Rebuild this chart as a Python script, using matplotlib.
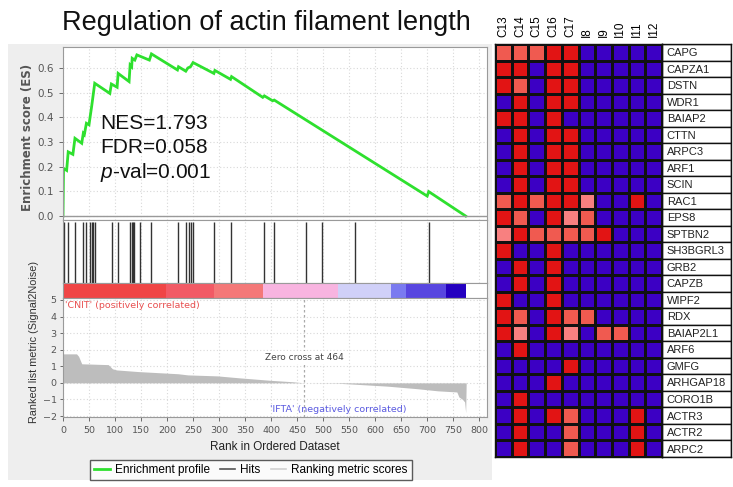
import matplotlib
matplotlib.use("Agg")
import matplotlib.pyplot as plt
from matplotlib.patches import Rectangle
from matplotlib.lines import Line2D
from matplotlib.colors import ListedColormap, BoundaryNorm
import numpy as np

plt.rcParams['mathtext.fontset'] = 'custom'
plt.rcParams['mathtext.it'] = 'Liberation Sans:italic'
plt.rcParams['mathtext.rm'] = 'Liberation Sans'

# ---------------- data ----------------
title = "Regulation of actin filament length"

es_rank = [0, 1, 7, 10, 19, 23, 36, 39, 41, 45, 50, 52, 55, 61, 90, 93, 104, 106, 127, 129,
           132, 133, 138, 142, 166, 170, 220, 222, 236, 240, 245, 250, 290, 292, 322, 324,
           384, 387, 403, 406, 700, 703, 774]
es_value = [0.0, 0.193, 0.185, 0.26, 0.25, 0.315, 0.295, 0.335, 0.33, 0.376, 0.37, 0.40, 0.443,
            0.538, 0.497, 0.535, 0.522, 0.578, 0.545, 0.612, 0.605, 0.639, 0.632, 0.653, 0.632,
            0.657, 0.592, 0.605, 0.587, 0.60, 0.605, 0.622, 0.578, 0.59, 0.554, 0.565, 0.481,
            0.487, 0.467, 0.47, 0.081, 0.099, 0.0]

hit_ranks = [2, 9, 23, 39, 44, 52, 55, 58, 61, 95, 106, 129, 132, 135, 137, 148, 170, 221, 237,
             242, 246, 250, 291, 323, 386, 405, 467, 497, 562, 703]

metric_rank = [0, 26, 30, 36, 87, 95, 103, 145, 221, 240, 297, 340, 400, 440, 464, 527, 560,
               624, 680, 720, 757, 761, 768, 772, 774, 775]
metric_value = [1.75, 1.75, 1.6, 1.15, 1.1, 0.85, 0.78, 0.68, 0.55, 0.48, 0.42, 0.3, 0.15, 0.07,
                0.0, -0.02, -0.08, -0.2, -0.35, -0.48, -0.55, -0.85, -1.0, -1.15, -1.8, 0.0]

band_edges = [0, 198, 290, 384, 528, 630, 659, 736, 774]
band_colors = ['#f04545', '#f25a65', '#f47878', '#f8b4e0', '#d0d0f8', '#7a7af0', '#5846e0', '#2400c0']

zero_cross = 464
nes_lines = ["NES=1.793", "FDR=0.058", "$p$-val=0.001"]

samples = ["C13", "C14", "C15", "C16", "C17", "I8", "I9", "I10", "I11", "I12"]
genes = ["CAPG", "CAPZA1", "DSTN", "WDR1", "BAIAP2", "CTTN", "ARPC3", "ARF1", "SCIN", "RAC1",
         "EPS8", "SPTBN2", "SH3BGRL3", "GRB2", "CAPZB", "WIPF2", "RDX", "BAIAP2L1", "ARF6",
         "GMFG", "ARHGAP18", "CORO1B", "ACTR3", "ACTR2", "ARPC2"]
# 0 = low (blue), 1 = pink, 2 = salmon, 3 = red
expr = [
    [2, 2, 2, 3, 3, 0, 0, 0, 0, 0],
    [3, 3, 0, 3, 3, 0, 0, 0, 0, 0],
    [3, 2, 0, 3, 3, 0, 0, 0, 0, 0],
    [0, 3, 0, 3, 3, 0, 0, 0, 0, 0],
    [3, 3, 0, 3, 0, 0, 0, 0, 0, 0],
    [0, 3, 0, 3, 3, 0, 0, 0, 0, 0],
    [0, 3, 0, 3, 3, 0, 0, 0, 0, 0],
    [0, 3, 0, 3, 3, 0, 0, 0, 0, 0],
    [0, 3, 0, 3, 3, 0, 0, 0, 0, 0],
    [2, 3, 2, 3, 3, 1, 0, 0, 3, 0],
    [3, 2, 0, 3, 1, 2, 0, 0, 0, 0],
    [1, 3, 2, 2, 2, 2, 3, 0, 0, 0],
    [3, 0, 0, 3, 0, 0, 0, 0, 0, 0],
    [0, 3, 0, 3, 0, 0, 0, 0, 0, 0],
    [0, 3, 0, 3, 0, 0, 0, 0, 0, 0],
    [3, 0, 0, 3, 0, 0, 0, 0, 0, 0],
    [3, 2, 0, 3, 2, 2, 0, 0, 0, 0],
    [3, 1, 0, 3, 1, 0, 2, 2, 0, 0],
    [0, 3, 0, 0, 0, 0, 0, 0, 0, 0],
    [0, 0, 0, 0, 3, 0, 0, 0, 0, 0],
    [0, 0, 0, 3, 0, 0, 0, 0, 0, 0],
    [0, 3, 0, 0, 0, 0, 0, 0, 0, 0],
    [0, 3, 0, 3, 2, 0, 0, 0, 3, 0],
    [0, 3, 0, 0, 2, 0, 0, 0, 3, 0],
    [0, 3, 0, 0, 2, 0, 0, 0, 3, 0],
]
heat_colors = ['#3c00c4', '#f88080', '#f05a50', '#e21414']

# ---------------- figure ----------------
W, H = 733, 487
fig = plt.figure(figsize=(W / 100, H / 100), dpi=100)

def fx(px):
    return px / W

def fy(py):
    return 1 - py / H

# gray background panel
fig.patches.append(Rectangle((fx(8), fy(480)), fx(484), 436 / H, transform=fig.transFigure,
                             facecolor='#eeeeee', edgecolor='none', zorder=-10))

XL = (0, 815)
grid_kw = dict(color='#d8d8d8', linestyle=(0, (1, 2)), linewidth=0.8)
tick_color = '#555555'
spine_color = '#9a9a9a'

def style(ax):
    for s in ax.spines.values():
        s.set_color(spine_color)
        s.set_linewidth(0.8)
    ax.tick_params(colors=tick_color, labelsize=7.5, length=3, width=0.6)

left, right = 63, 487
# ES axes
ax1 = fig.add_axes([fx(left), fy(220), fx(right - left), 173 / H])
ax1.plot(es_rank, es_value, color='#2ee02e', lw=2, solid_joinstyle='miter')
ax1.axhline(0, color='#999999', lw=1)
ax1.set_xlim(*XL)
ax1.set_ylim(-0.016, 0.685)
ax1.set_yticks([0.0, 0.1, 0.2, 0.3, 0.4, 0.5, 0.6])
ax1.set_yticklabels(["%.1f" % v for v in [0.0, 0.1, 0.2, 0.3, 0.4, 0.5, 0.6]])
ax1.set_xticks(np.arange(0, 801, 50))
ax1.tick_params(axis='x', labelbottom=False, length=0)
ax1.grid(True, **grid_kw)
ax1.set_axisbelow(True)
style(ax1)
for i, t in enumerate(nes_lines):
    ax1.text(71, 0.377 - i * 0.101, t, fontsize=15, family='Liberation Sans', va='center',
             ha='left', color='#111111')

# hits axes
ax2 = fig.add_axes([fx(left), fy(283), fx(right - left), 63 / H])
ax2.vlines(hit_ranks, 0, 1, color='#333333', lw=1)
ax2.set_xlim(*XL)
ax2.set_ylim(0, 1.03)
ax2.set_xticks(np.arange(0, 801, 50))
ax2.set_yticks([])
ax2.tick_params(axis='x', labelbottom=False, length=0)
ax2.grid(True, axis='x', **grid_kw)
ax2.set_axisbelow(True)
style(ax2)

# color band axes
ax3 = fig.add_axes([fx(left), fy(298), fx(right - left), 15 / H])
for i, c in enumerate(band_colors):
    ax3.axvspan(band_edges[i], band_edges[i + 1], color=c, lw=0)
ax3.set_xlim(*XL)
ax3.set_ylim(0, 1)
ax3.set_xticks([])
ax3.set_yticks([])
style(ax3)

# ranked metric axes
ax4 = fig.add_axes([fx(left), fy(417), fx(right - left), 119 / H])
ax4.fill_between(metric_rank, metric_value, 0, color='#bdbdbd', lw=0)
ax4.axvline(zero_cross, color='#aaaaaa', lw=0.9, linestyle=(0, (2, 2)))
ax4.set_xlim(*XL)
ax4.set_ylim(-2.06, 5.12)
ax4.set_yticks(range(-2, 6))
ax4.set_xticks(np.arange(0, 801, 50))
ax4.grid(True, **grid_kw)
ax4.set_axisbelow(True)
style(ax4)
ax4.tick_params(labelsize=6.8)
ax4.tick_params(axis='y', pad=2, length=2.5)
ax4.set_xlabel("Rank in Ordered Dataset", fontsize=8.5, color='#222222',
               family='Liberation Sans', labelpad=4)
ax4.text(4, 4.95, "'CNIT' (positively correlated)", color='#e85050', fontsize=6.8,
         va='top', ha='left')
ax4.text(530, -1.62, "'IFTA' (negatively correlated)", color='#5a5ae0', fontsize=6.8,
         va='center', ha='center')
ax4.text(zero_cross, 1.55, "Zero cross at %d" % zero_cross, color='#444444', fontsize=6.5,
         va='center', ha='center',
         bbox=dict(facecolor='white', edgecolor='none', pad=1.5))

fig.text(fx(28), fy(137), "Enrichment score (ES)", rotation=90, fontsize=8.5, color='#555555',
         ha='center', va='center', fontweight='bold')
fig.text(fx(34), fy(342), "Ranked list metric (Signal2Noise)", rotation=90, fontsize=7.8,
         color='#333333', ha='center', va='center', family='Liberation Sans')

fig.text(fx(266), fy(23), title, fontsize=19.5, family='Liberation Sans', ha='center',
         va='center', color='#111111')

handles = [Line2D([], [], color='#2ee02e', lw=2),
           Line2D([], [], color='#555555', lw=1.2),
           Line2D([], [], color='#d0d0d0', lw=1.2)]
leg = fig.legend(handles, ["Enrichment profile", "Hits", "Ranking metric scores"],
                 loc='center', bbox_to_anchor=(fx(251), fy(470)), ncol=3,
                 frameon=True, fancybox=False, edgecolor='#333333', handlelength=1.3,
                 handletextpad=0.4, columnspacing=0.9, borderpad=0.35,
                 prop={'family': 'Liberation Sans', 'size': 8.5})
leg.get_frame().set_linewidth(1.0)

# ---------------- heatmap ----------------
axh = fig.add_axes([fx(495), fy(457), fx(167), 413 / H])
cmap = ListedColormap(heat_colors)
norm = BoundaryNorm([-0.5, 0.5, 1.5, 2.5, 3.5], cmap.N)
arr = np.array(expr)
axh.pcolormesh(np.arange(arr.shape[1] + 1), np.arange(arr.shape[0] + 1), arr, cmap=cmap,
               norm=norm, edgecolors='#111111', linewidth=1.0)
axh.set_xlim(0, len(samples))
axh.set_ylim(len(genes), 0)
axh.set_xticks(np.arange(len(samples)) + 0.5)
axh.set_xticklabels(samples, rotation=90, fontsize=8.5, family='Liberation Sans')
axh.xaxis.tick_top()
axh.tick_params(axis='x', length=0, pad=5)
axh.set_yticks([])
for s in axh.spines.values():
    s.set_color('#111111')
    s.set_linewidth(1.0)

axl = fig.add_axes([fx(662), fy(457), fx(69), 413 / H])
axl.set_xlim(0, 1)
axl.set_ylim(len(genes), 0)
for i, g in enumerate(genes):
    axl.add_patch(Rectangle((0, i), 1, 1, facecolor='white', edgecolor='#111111', lw=1.0))
    axl.text(0.07, i + 0.55, g, fontsize=8, family='Liberation Sans', va='center', ha='left',
             color='#222222')
axl.set_xticks([])
axl.set_yticks([])
for s in axl.spines.values():
    s.set_color('#111111')
    s.set_linewidth(1.0)

fig.savefig("out.png", dpi=100)
